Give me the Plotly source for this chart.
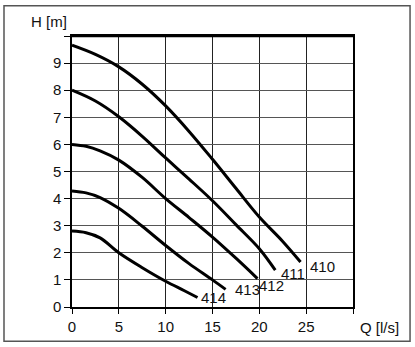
import plotly.graph_objects as go

# Pump curves: flow Q [l/s] vs head H [m]
q410 = [0, 2.5, 5, 7.5, 10, 12.5, 15, 17.5, 20, 22.5, 24.4]
h410 = [9.66, 9.32, 8.86, 8.22, 7.42, 6.48, 5.45, 4.38, 3.32, 2.42, 1.66]

q411 = [0, 2.5, 5, 7.5, 10, 12.5, 15, 17.5, 20, 21.7]
h411 = [8.0, 7.6, 7.02, 6.3, 5.5, 4.72, 3.92, 3.04, 2.15, 1.36]

q412 = [0, 1.5, 3, 5, 7.5, 10, 12.5, 15, 17.5, 19.8]
h412 = [6.0, 5.93, 5.76, 5.42, 4.78, 4.0, 3.3, 2.58, 1.8, 1.05]

q413 = [0, 1.5, 3, 5, 7.5, 10, 12.5, 15, 16.4]
h413 = [4.28, 4.21, 4.04, 3.64, 2.98, 2.27, 1.6, 1.0, 0.65]

q414 = [0, 1.5, 3, 5, 7.5, 10, 12, 13.4]
h414 = [2.8, 2.74, 2.55, 2.0, 1.45, 0.95, 0.6, 0.35]

curve_names = ["410", "411", "412", "413", "414"]
label_q = [26.7, 23.6, 21.3, 18.7, 15.1]
label_h = [1.49, 1.23, 0.79, 0.65, 0.36]

x_ticks = [0, 5, 10, 15, 20, 25, 30]
x_ticktext = ["0", "5", "10", "15", "20", "25", ""]
y_ticks = list(range(0, 11))
y_ticktext = [str(v) for v in range(0, 10)] + [""]

FONT = "Liberation Sans, Arial, sans-serif"

fig = go.Figure()
for q, h, n in zip([q410, q411, q412, q413, q414],
                   [h410, h411, h412, h413, h414], curve_names):
    fig.add_trace(go.Scatter(x=q, y=h, mode="lines", name=n,
                             line=dict(color="black", width=3, shape="spline", smoothing=1.0),
                             showlegend=False, hoverinfo="skip"))

for n, lq, lh in zip(curve_names, label_q, label_h):
    fig.add_annotation(x=lq, y=lh, xref="x", yref="y", text=n, showarrow=False,
                       xanchor="center", yanchor="middle",
                       font=dict(family=FONT, size=15, color="#111"))

fig.add_annotation(x=-0.082, y=1.054, xref="paper", yref="paper", text="H [m]",
                   showarrow=False, xanchor="center", yanchor="middle",
                   font=dict(family=FONT, size=15, color="#111"))
fig.add_annotation(x=1.096, y=-0.074, xref="paper", yref="paper", text="Q [l/s]",
                   showarrow=False, xanchor="center", yanchor="middle",
                   font=dict(family=FONT, size=15, color="#111"))

# outer frame
fig.add_shape(type="rect", xref="paper", yref="paper", x0=-0.242, y0=-0.126, x1=1.203, y1=1.112,
              line=dict(color="#555", width=1.5), fillcolor="rgba(0,0,0,0)", layer="below")
# thick top border
fig.add_shape(type="line", xref="paper", yref="paper", x0=0, y0=1, x1=1, y1=1,
              line=dict(color="black", width=2.5))

fig.update_xaxes(range=[0, 30], tickvals=x_ticks, ticktext=x_ticktext,
                 showgrid=True, gridcolor="#222", gridwidth=1,
                 showline=True, linecolor="black", linewidth=1.5, mirror=True,
                 ticks="outside", ticklen=5, tickcolor="black",
                 tickfont=dict(family=FONT, size=15, color="#111"), zeroline=False)
fig.update_yaxes(range=[0, 10], tickvals=y_ticks, ticktext=y_ticktext,
                 showgrid=True, gridcolor="#555", gridwidth=1,
                 showline=True, linecolor="black", linewidth=1.5, mirror=True,
                 ticks="outside", ticklen=6, tickcolor="black",
                 tickfont=dict(family=FONT, size=15, color="#111"), zeroline=False)

fig.update_layout(width=415, height=347, margin=dict(l=72, r=62, t=36, b=38),
                  plot_bgcolor="white", paper_bgcolor="white")

fig.write_html("out.html")
